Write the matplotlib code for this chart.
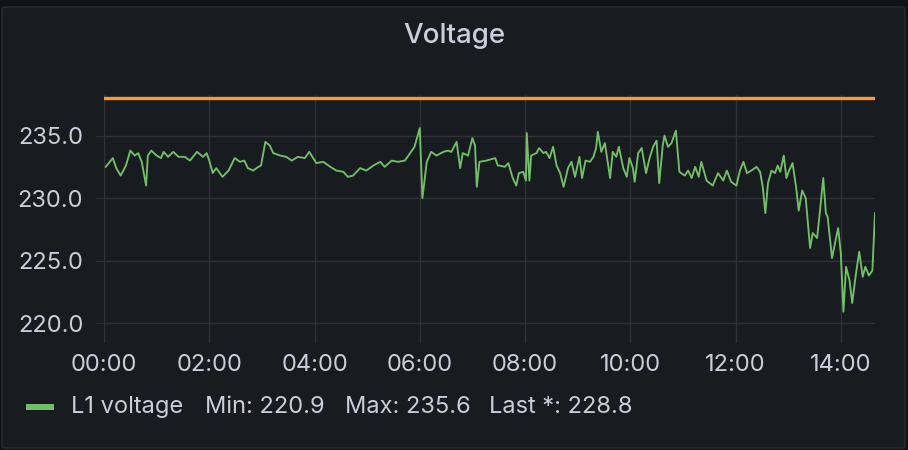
import matplotlib
matplotlib.use("Agg")
import matplotlib.pyplot as plt
from matplotlib.patches import FancyBboxPatch, Rectangle

# minutes since 00:00 and L1 voltage readings
minutes = [
    2, 10, 14, 19, 25, 30, 35, 39, 43, 48, 50, 54, 60, 65, 68, 73, 79, 85, 92, 98,
    106, 113, 117, 120, 124, 128, 135, 142, 149, 155, 160, 164, 170, 176, 179, 184,
    189, 193, 201, 208, 214, 221, 229, 234, 242, 250, 258, 265, 273, 278, 284, 292,
    299, 307, 315, 320, 328, 335, 343, 347, 354, 360, 363, 368, 373, 379, 387, 392,
    396, 402, 406, 409, 415, 420, 423, 425, 428, 436, 446, 449,
    451, 457, 461, 466, 470, 473, 478, 481, 482, 485,
    487, 493, 496, 501, 504, 508, 512, 516, 520, 524,
    529, 533, 537, 542, 545, 549, 554, 558, 561, 563,
    567, 571, 574, 577, 580, 584, 587, 592, 596, 599,
    603, 605, 609, 613, 618, 622, 626, 630, 633, 637,
    639, 643, 647, 652, 656, 662, 666, 670, 674, 678,
    681, 687, 694, 700, 706, 710, 715, 721,
    725, 729, 733, 738, 744, 748, 751, 754, 757, 761,
    765, 768, 771, 775, 778, 781, 785, 789, 792, 796,
    800, 805, 808, 813, 816, 820, 823, 825, 830, 834,
    837, 840, 843, 846, 850, 853, 857, 861, 865, 868,
    872, 876, 879,
]
voltage = [
    232.5, 233.2, 232.4, 231.8, 232.6, 233.8, 233.4, 233.6, 232.9, 231.0, 233.4, 233.8,
    233.4, 233.2, 233.7, 233.3, 233.7, 233.3, 233.3, 233.0,
    233.7, 233.3, 233.6, 233.0, 232.0, 232.4, 231.7, 232.2, 233.2, 232.9, 233.0, 232.4,
    232.2, 232.5, 232.6, 234.5,
    234.2, 233.6, 233.4, 233.3, 233.0, 233.3, 233.2, 233.7, 232.8, 232.9, 232.5, 232.2,
    232.1, 231.7, 231.8, 232.4,
    232.2, 232.6, 232.9, 232.5, 233.0, 232.9, 233.0, 233.4, 234.1, 235.6, 230.0, 232.9,
    233.7, 233.4, 233.7, 233.8,
    233.7, 234.5, 232.4, 233.6, 233.4, 234.8, 234.2, 230.9, 232.9, 233.0, 233.2, 232.6,
    232.6, 232.5, 232.8, 231.6, 231.0, 232.0, 232.1, 231.4, 235.2, 231.4,
    233.4, 233.6, 234.0, 233.6, 233.7, 233.2, 234.1, 232.6, 232.0, 230.9,
    232.4, 232.9, 231.7, 233.3, 231.6, 233.0, 232.9, 233.3, 234.0, 235.3,
    233.7, 234.4, 233.0, 231.6, 233.7, 233.3, 234.1, 232.4, 231.7, 233.2,
    232.4, 231.3, 233.6, 234.0, 232.0, 233.2, 234.1, 234.6, 231.2, 234.2,
    235.0, 234.1, 234.4, 235.4, 232.1, 231.8, 232.2, 231.6, 232.5, 231.7,
    232.9, 231.4, 231.0, 232.0, 231.4, 232.2, 231.3, 231.0,
    232.2, 232.9, 232.0, 232.2, 232.5, 232.1, 230.9, 228.8, 231.2, 232.2,
    232.0, 232.6, 232.1, 233.4, 231.6, 232.2, 232.8, 230.9, 229.0, 230.6,
    230.0, 226.0, 227.2, 226.8, 228.8, 231.6, 228.8, 228.5, 225.2, 226.6,
    227.6, 225.6, 220.9, 224.5, 223.4, 221.6, 223.8, 225.7, 223.7, 224.5,
    223.8, 224.2, 228.8,
]
threshold = 238.0
y_ticks = [220, 225, 230, 235]
x_ticks = [0, 120, 240, 360, 480, 600, 720, 840]
x_labels = ["00:00", "02:00", "04:00", "06:00", "08:00", "10:00", "12:00", "14:00"]

BG_OUT = "#111217"
BG = "#181b1f"
TXT = "#ccccdc"
GRID = "#2f3136"
GREEN = "#73bf69"
ORANGE = "#ff9830"

plt.rcParams["font.family"] = ["Inter", "DejaVu Sans"]

W, H = 908, 450
fig = plt.figure(figsize=(W / 100, H / 100), dpi=100, facecolor=BG_OUT)

panel = FancyBboxPatch((2 / W, 2 / H), 903 / W, 441 / H,
                       boxstyle="round,pad=0,rounding_size=0.004",
                       transform=fig.transFigure, facecolor=BG,
                       edgecolor="#2a2d32", linewidth=1.0, zorder=-5)
fig.patches.append(panel)

fig.text(454 / W, 1 - 36 / H, "Voltage", ha="center", va="center",
         fontsize=20, fontweight="medium", color=TXT)

ax = fig.add_axes([104 / W, 1 - 343 / H, (875 - 104) / W, (343 - 95) / H])
ax.patch.set_alpha(0)

ax.plot(minutes, voltage, color=GREEN, linewidth=1.35, zorder=3)
ax.axhline(threshold, color=ORANGE, linewidth=2.4, zorder=4)

ax.set_xlim(0, 879)
ax.set_ylim(218.4, 238.25)
ax.set_yticks(y_ticks)
ax.set_yticklabels([f"{v:.1f}" for v in y_ticks])
ax.set_xticks(x_ticks)
ax.set_xticklabels(x_labels)

ax.grid(True, color=GRID, linewidth=1.0, zorder=0)
for s in ax.spines.values():
    s.set_visible(False)
ax.tick_params(axis="y", length=6, color=GRID, pad=9, labelsize=17, labelcolor=TXT)
ax.tick_params(axis="x", length=0, pad=8, labelsize=17, labelcolor=TXT)

# legend row
fig.patches.append(Rectangle((26 / W, 1 - 410 / H), 28 / W, 6 / H,
                             transform=fig.transFigure, facecolor=GREEN,
                             edgecolor="none"))
legend_parts = [
    (71, "L1 voltage"),
    (205, f"Min: {min(voltage):.1f}"),
    (345, f"Max: {max(voltage):.1f}"),
    (489, f"Last *: {voltage[-1]:.1f}"),
]
for px, txt in legend_parts:
    fig.text(px / W, 1 - 407 / H, txt, ha="left", va="center",
             fontsize=17, color=TXT)

fig.savefig("out.png", dpi=100, facecolor=BG_OUT)
